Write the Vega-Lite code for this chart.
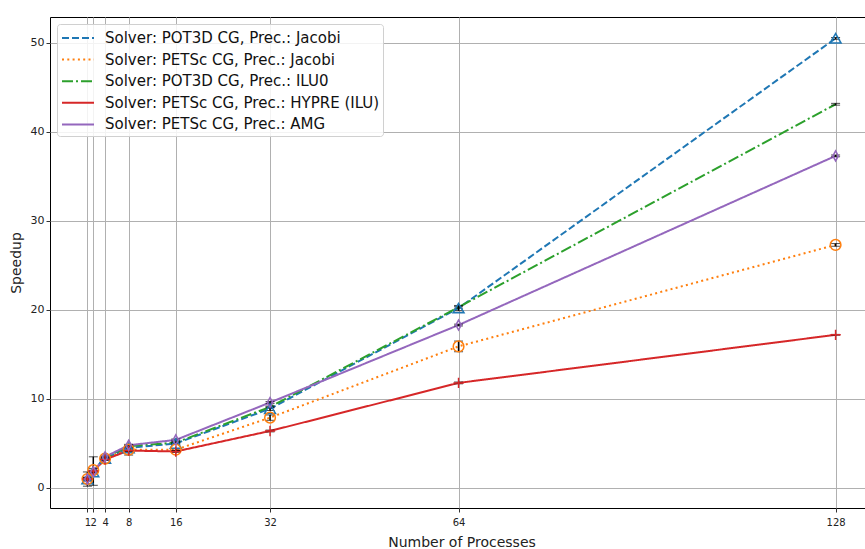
{
  "$schema": "https://vega.github.io/schema/vega-lite/v6.json",
  "autosize": "none",
  "width": 823,
  "height": 491,
  "padding": {"left": 50, "top": 17, "right": 0, "bottom": 41},
  "background": "white",
  "config": {
    "view": {"stroke": "black", "strokeWidth": 1},
    "font": "DejaVu Sans",
    "axis": {
      "grid": true, "gridColor": "#b0b0b0", "gridWidth": 1,
      "domain": false, "tickColor": "#333", "tickSize": 4, "tickWidth": 1,
      "labelFont": "DejaVu Sans", "labelFontSize": 11, "labelColor": "#222",
      "titleFont": "DejaVu Sans", "titleFontSize": 14, "titleFontWeight": "normal", "titleColor": "#222"
    }
  },
  "data": {"values": [
    {"p": 1, "s": "Solver: POT3D CG, Prec.: Jacobi", "v": 1.0, "lo": 0.9, "hi": 1.1},
    {"p": 2, "s": "Solver: POT3D CG, Prec.: Jacobi", "v": 1.8, "lo": 1.7, "hi": 1.9},
    {"p": 4, "s": "Solver: POT3D CG, Prec.: Jacobi", "v": 3.3, "lo": 3.2, "hi": 3.4},
    {"p": 8, "s": "Solver: POT3D CG, Prec.: Jacobi", "v": 4.5, "lo": 4.4, "hi": 4.6},
    {"p": 16, "s": "Solver: POT3D CG, Prec.: Jacobi", "v": 5.0, "lo": 4.9, "hi": 5.1},
    {"p": 32, "s": "Solver: POT3D CG, Prec.: Jacobi", "v": 8.9, "lo": 8.7, "hi": 9.1},
    {"p": 64, "s": "Solver: POT3D CG, Prec.: Jacobi", "v": 20.2, "lo": 19.9, "hi": 20.5},
    {"p": 128, "s": "Solver: POT3D CG, Prec.: Jacobi", "v": 50.5, "lo": 50.4, "hi": 50.6},

    {"p": 1, "s": "Solver: PETSc CG, Prec.: Jacobi", "v": 1.0, "lo": 0.8, "hi": 1.2},
    {"p": 2, "s": "Solver: PETSc CG, Prec.: Jacobi", "v": 2.0, "lo": 1.8, "hi": 2.2},
    {"p": 4, "s": "Solver: PETSc CG, Prec.: Jacobi", "v": 3.3, "lo": 3.1, "hi": 3.5},
    {"p": 8, "s": "Solver: PETSc CG, Prec.: Jacobi", "v": 4.3, "lo": 4.1, "hi": 4.5},
    {"p": 16, "s": "Solver: PETSc CG, Prec.: Jacobi", "v": 4.3, "lo": 4.2, "hi": 4.4},
    {"p": 32, "s": "Solver: PETSc CG, Prec.: Jacobi", "v": 7.9, "lo": 7.6, "hi": 8.2},
    {"p": 64, "s": "Solver: PETSc CG, Prec.: Jacobi", "v": 15.9, "lo": 15.3, "hi": 16.5},
    {"p": 128, "s": "Solver: PETSc CG, Prec.: Jacobi", "v": 27.3, "lo": 27.15, "hi": 27.45},

    {"p": 1, "s": "Solver: POT3D CG, Prec.: ILU0", "v": 1.0, "lo": 0.9, "hi": 1.1},
    {"p": 2, "s": "Solver: POT3D CG, Prec.: ILU0", "v": 1.9, "lo": 1.8, "hi": 2.0},
    {"p": 4, "s": "Solver: POT3D CG, Prec.: ILU0", "v": 3.4, "lo": 3.3, "hi": 3.5},
    {"p": 8, "s": "Solver: POT3D CG, Prec.: ILU0", "v": 4.7, "lo": 4.6, "hi": 4.8},
    {"p": 16, "s": "Solver: POT3D CG, Prec.: ILU0", "v": 5.1, "lo": 5.0, "hi": 5.2},
    {"p": 32, "s": "Solver: POT3D CG, Prec.: ILU0", "v": 9.1, "lo": 9.0, "hi": 9.2},
    {"p": 64, "s": "Solver: POT3D CG, Prec.: ILU0", "v": 20.3, "lo": 20.2, "hi": 20.4},
    {"p": 128, "s": "Solver: POT3D CG, Prec.: ILU0", "v": 43.1, "lo": 43.0, "hi": 43.2},

    {"p": 1, "s": "Solver: PETSc CG, Prec.: HYPRE (ILU)", "v": 1.0, "lo": 0.2, "hi": 1.8},
    {"p": 2, "s": "Solver: PETSc CG, Prec.: HYPRE (ILU)", "v": 1.9, "lo": 0.3, "hi": 3.5},
    {"p": 4, "s": "Solver: PETSc CG, Prec.: HYPRE (ILU)", "v": 3.2, "lo": 3.1, "hi": 3.3},
    {"p": 8, "s": "Solver: PETSc CG, Prec.: HYPRE (ILU)", "v": 4.2, "lo": 3.7, "hi": 4.7},
    {"p": 16, "s": "Solver: PETSc CG, Prec.: HYPRE (ILU)", "v": 4.1, "lo": 4.0, "hi": 4.2},
    {"p": 32, "s": "Solver: PETSc CG, Prec.: HYPRE (ILU)", "v": 6.4, "lo": 6.3, "hi": 6.5},
    {"p": 64, "s": "Solver: PETSc CG, Prec.: HYPRE (ILU)", "v": 11.8, "lo": 11.7, "hi": 11.9},
    {"p": 128, "s": "Solver: PETSc CG, Prec.: HYPRE (ILU)", "v": 17.2, "lo": 17.15, "hi": 17.25},

    {"p": 1, "s": "Solver: PETSc CG, Prec.: AMG", "v": 1.0, "lo": 0.8, "hi": 1.2},
    {"p": 2, "s": "Solver: PETSc CG, Prec.: AMG", "v": 1.8, "lo": 1.7, "hi": 1.9},
    {"p": 4, "s": "Solver: PETSc CG, Prec.: AMG", "v": 3.5, "lo": 3.4, "hi": 3.6},
    {"p": 8, "s": "Solver: PETSc CG, Prec.: AMG", "v": 4.8, "lo": 4.7, "hi": 4.9},
    {"p": 16, "s": "Solver: PETSc CG, Prec.: AMG", "v": 5.4, "lo": 5.3, "hi": 5.5},
    {"p": 32, "s": "Solver: PETSc CG, Prec.: AMG", "v": 9.6, "lo": 9.5, "hi": 9.7},
    {"p": 64, "s": "Solver: PETSc CG, Prec.: AMG", "v": 18.3, "lo": 18.2, "hi": 18.4},
    {"p": 128, "s": "Solver: PETSc CG, Prec.: AMG", "v": 37.3, "lo": 37.2, "hi": 37.4}
  ]},
  "encoding": {
    "x": {"field": "p", "type": "quantitative", "title": "Number of Processes",
      "scale": {"domain": [-5.35, 134.35], "nice": false, "zero": false},
      "axis": {"values": [1, 2, 4, 8, 16, 32, 64, 128], "labelOverlap": false, "labelFontSize": 10, "labelPadding": 5, "titlePadding": 8}},
    "y": {"field": "v", "type": "quantitative", "title": "Speedup",
      "scale": {"domain": [-2.25, 52.9], "nice": false, "zero": false},
      "axis": {"values": [0, 10, 20, 30, 40, 50], "titlePadding": 7}}
  },
  "layer": [
    {
      "mark": {"type": "line", "strokeWidth": 2, "clip": true},
      "encoding": {
        "color": {"field": "s", "type": "nominal",
          "scale": {"domain": ["Solver: POT3D CG, Prec.: Jacobi", "Solver: PETSc CG, Prec.: Jacobi", "Solver: POT3D CG, Prec.: ILU0", "Solver: PETSc CG, Prec.: HYPRE (ILU)", "Solver: PETSc CG, Prec.: AMG"],
            "range": ["#1f77b4", "#ff7f0e", "#2ca02c", "#d62728", "#9467bd"]},
          "legend": {"title": null, "orient": "top-left", "offset": 7, "symbolType": "M-1.6,0H1.6", "symbolSize": 400, "symbolStrokeWidth": 2, "symbolOffset": 7,
            "labelFontSize": 15, "labelFont": "DejaVu Sans", "labelColor": "#111", "labelLimit": 400, "labelOffset": 16, "rowPadding": 2.6,
            "padding": 3, "fillColor": "rgba(255,255,255,0.85)", "strokeColor": "#d0d0d0", "cornerRadius": 3}},
        "strokeDash": {"field": "s", "type": "nominal",
          "scale": {"domain": ["Solver: POT3D CG, Prec.: Jacobi", "Solver: PETSc CG, Prec.: Jacobi", "Solver: POT3D CG, Prec.: ILU0", "Solver: PETSc CG, Prec.: HYPRE (ILU)", "Solver: PETSc CG, Prec.: AMG"],
            "range": [[7, 3], [2, 3.3], [11, 3, 2, 3], [1, 0], [1, 0]]},
          "legend": {"title": null}}
      }
    },
    {
      "mark": {"type": "errorbar", "ticks": {"size": 9, "color": "black"}, "rule": {"color": "black", "strokeWidth": 1.5}},
      "encoding": {
        "y": {"field": "lo", "type": "quantitative"},
        "y2": {"field": "hi"}
      }
    },
    {
      "transform": [{"filter": "datum.s != 'Solver: POT3D CG, Prec.: ILU0'"}],
      "mark": {"type": "point", "filled": false, "strokeWidth": 1.5, "opacity": 1},
      "encoding": {
        "stroke": {"field": "s", "type": "nominal",
          "scale": {"domain": ["Solver: POT3D CG, Prec.: Jacobi", "Solver: PETSc CG, Prec.: Jacobi", "Solver: PETSc CG, Prec.: HYPRE (ILU)", "Solver: PETSc CG, Prec.: AMG"],
            "range": ["#1f77b4", "#ff7f0e", "#d62728", "#9467bd"]}, "legend": null},
        "shape": {"field": "s", "type": "nominal",
          "scale": {"domain": ["Solver: POT3D CG, Prec.: Jacobi", "Solver: PETSc CG, Prec.: Jacobi", "Solver: PETSc CG, Prec.: HYPRE (ILU)", "Solver: PETSc CG, Prec.: AMG"],
            "range": ["triangle-up", "circle", "M-1,0H1M0,-1V1", "M0,-1L0.55,0L0,1L-0.55,0Z"]}, "legend": null},
        "size": {"field": "s", "type": "nominal",
          "scale": {"domain": ["Solver: POT3D CG, Prec.: Jacobi", "Solver: PETSc CG, Prec.: Jacobi", "Solver: PETSc CG, Prec.: HYPRE (ILU)", "Solver: PETSc CG, Prec.: AMG"],
            "range": [120, 100, 80, 200]}, "legend": null}
      }
    }
  ]
}
